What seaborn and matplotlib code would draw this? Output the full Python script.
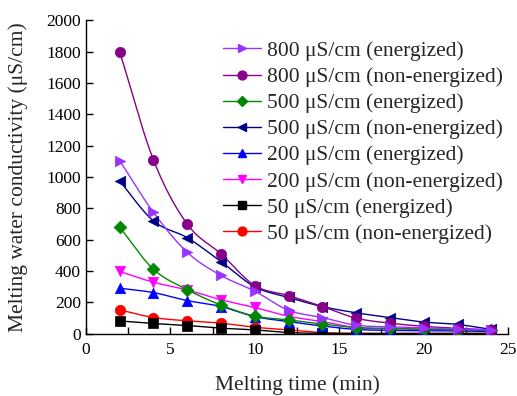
import numpy as np
import matplotlib
matplotlib.use("Agg")
import matplotlib.pyplot as plt
from matplotlib.lines import Line2D
from matplotlib.ticker import MultipleLocator
import seaborn as sns

time_min = [2, 4, 6, 8, 10, 12, 14, 16, 18, 20, 22, 24]
e800 = [1105, 775, 520, 372, 272, 150, 104, 55, 45, 38, 32, 25]
n800 = [1800, 1110, 700, 510, 308, 244, 174, 100, 68, 48, 35, 25]
e500 = [680, 412, 282, 183, 113, 89, 62, 40, 35, 30, 27, 22]
n500 = [975, 720, 613, 461, 300, 232, 174, 134, 104, 75, 60, 28]
e200 = [291, 263, 212, 174, 110, 78, 50, 28, 22, 20, 18, 15]
n200 = [398, 329, 280, 217, 168, 112, 78, 40, 32, 28, 25, 22]
e50 = [82, 66, 53, 36, 25, 8, 3, 2, 2, 2, 2, 2]
n50 = [153, 104, 83, 68, 42, 25, 8, 3, 3, 3, 3, 3]

labels = ["800 μS/cm (energized)", "800 μS/cm (non-energized)",
          "500 μS/cm (energized)", "500 μS/cm (non-energized)",
          "200 μS/cm (energized)", "200 μS/cm (non-energized)",
          "50 μS/cm (energized)", "50 μS/cm (non-energized)"]
series = [e800, n800, e500, n500, e200, n200, e50, n50]
colors = ["#9933FF", "#880088", "#008800", "#000088", "#0000FF", "#FF00FF", "#000000", "#FF0000"]
markers = [">", "o", "D", "<", "^", "v", "s", "o"]
msizes = [7.5, 7.5, 6.5, 7.5, 7.5, 7.5, 6.5, 7.5]

sns.set_theme(style="ticks")
plt.rcParams["font.family"] = ["Liberation Serif", "DejaVu Serif"]
plt.rcParams["mathtext.fontset"] = "stix"


def catmull_rom(x, y, n=20):
    x = np.asarray(x, float)
    y = np.asarray(y, float)
    px = np.concatenate([[2 * x[0] - x[1]], x, [2 * x[-1] - x[-2]]])
    py = np.concatenate([[2 * y[0] - y[1]], y, [2 * y[-1] - y[-2]]])
    xs, ys = [], []
    for i in range(1, len(px) - 2):
        tt = np.linspace(0, 1, n, endpoint=False)
        for arr, out in ((px, xs), (py, ys)):
            p0, p1, p2, p3 = arr[i - 1], arr[i], arr[i + 1], arr[i + 2]
            out.append(0.5 * ((2 * p1) + (-p0 + p2) * tt
                              + (2 * p0 - 5 * p1 + 4 * p2 - p3) * tt ** 2
                              + (-p0 + 3 * p1 - 3 * p2 + p3) * tt ** 3))
    xs.append([x[-1]])
    ys.append([y[-1]])
    return np.concatenate(xs), np.concatenate(ys)


fig = plt.figure(figsize=(5.17, 3.96), dpi=100)
ax = fig.add_axes([0.166, 0.157, 0.817, 0.792])

for vals, c, m, ms in zip(series[::-1], colors[::-1], markers[::-1], msizes[::-1]):
    sx, sy = catmull_rom(time_min, vals)
    sns.lineplot(x=sx, y=sy, color=c, lw=1.0, ax=ax, sort=False, estimator=None)
    sns.scatterplot(x=time_min, y=vals, marker=m, s=ms ** 2, color=c,
                    edgecolor=c, linewidth=0.5, ax=ax, zorder=3)

handles = [Line2D([0], [0], color=c, lw=1.0, marker=m, markersize=ms * 0.85,
                  markeredgecolor=c, markerfacecolor=c)
           for c, m, ms in zip(colors, markers, msizes)]
ax.legend(handles, labels, loc="upper left", bbox_to_anchor=(0.295, 0.975),
          frameon=False, fontsize=15.5, handlelength=1.75, handletextpad=0.3,
          labelspacing=0.28, borderaxespad=0.2)

ax.set_xlim(0, 25)
ax.set_ylim(0, 2000)
ax.xaxis.set_major_locator(MultipleLocator(5))
ax.xaxis.set_minor_locator(MultipleLocator(2.5))
ax.yaxis.set_major_locator(MultipleLocator(200))
ax.tick_params(axis="both", which="both", direction="in", labelsize=12.5,
               colors="black", width=1)
ax.tick_params(axis="both", which="major", length=5)
ax.tick_params(axis="x", which="minor", length=5)
ax.tick_params(axis="x", pad=6)
sns.despine(ax=ax)
for sp in ax.spines.values():
    sp.set_color("black")
    sp.set_linewidth(1)
ax.set_xlabel("Melting time (min)", fontsize=15.5, labelpad=12)
ax.set_ylabel("Melting water conductivity (μS/cm)", fontsize=15.5, labelpad=13)

fig.savefig("out.png", dpi=100)
